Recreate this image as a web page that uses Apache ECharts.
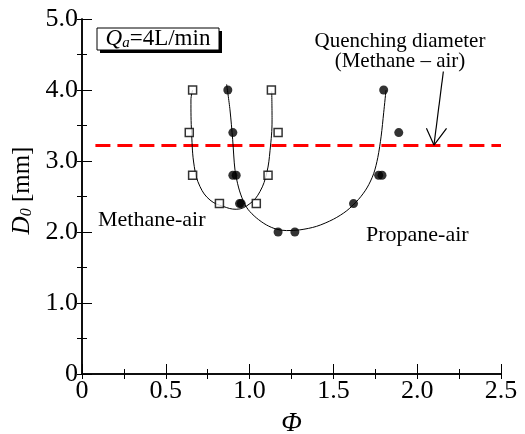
<!DOCTYPE html>
<html>
<head>
<meta charset="utf-8">
<script src="https://cdn.jsdelivr.net/npm/echarts@6/dist/echarts.min.js"></script>
<style>
  html, body { margin: 0; padding: 0; background: #fff; }
  #chart { width: 525px; height: 434px; }
</style>
</head>
<body>
<div id="chart"></div>
<script>
// measured points (phi, D0)
const methaneX = [0.66, 0.64, 0.66, 0.82, 1.04, 1.11, 1.17, 1.13];
const methaneY = [4.0, 3.4, 2.8, 2.4, 2.4, 2.8, 3.4, 4.0];
const propaneX = [0.87, 0.90, 0.90, 0.92, 0.94, 0.95, 1.17, 1.27, 1.62, 1.77, 1.79, 1.80, 1.89];
const propaneY = [4.0, 3.4, 2.8, 2.8, 2.4, 2.4, 2.0, 2.0, 2.4, 2.8, 2.8, 4.0, 3.4];

// fitted curves
const methaneFitX = [0.66, 0.650, 0.654, 0.670, 0.704, 0.764, 0.843, 0.92, 1.002, 1.062, 1.102, 1.122, 1.134, 1.132];
const methaneFitY = [4.0, 3.86, 3.39, 2.92, 2.64, 2.45, 2.36, 2.32, 2.40, 2.57, 2.83, 3.15, 3.58, 3.98];
const propaneFitX = [0.863, 0.883, 0.899, 0.913, 0.935, 0.96, 0.99, 1.04, 1.10, 1.16, 1.22, 1.30, 1.40, 1.50, 1.58, 1.65, 1.70, 1.74, 1.765, 1.785, 1.80, 1.814];
const propaneFitY = [4.08, 3.72, 3.30, 2.87, 2.62, 2.45, 2.32, 2.20, 2.10, 2.04, 2.02, 2.03, 2.08, 2.18, 2.30, 2.46, 2.62, 2.82, 3.05, 3.35, 3.68, 4.0];

// quenching diameter (methane-air)
const quenchY = 3.22;
const quenchX = [0.08, 2.5];
// arrow pointing at the quenching line
const arrowShaft = [[2.156, 4.26], [2.10, 3.225]];
const arrowHead = [[2.055, 3.46], [2.10, 3.225], [2.175, 3.46]];

const zip = (xs, ys) => xs.map((x, i) => [x, ys[i]]);
const serif = "'Liberation Serif', 'DejaVu Serif', serif";
const fmt = v => (v === 0 ? '0' : v.toFixed(1));

const chart = echarts.init(document.getElementById('chart'));

const frameAxis = {
  axisLine: { show: true, lineStyle: { color: '#000', width: 1.5 } },
  splitLine: { show: false }
};

const option = {
  animation: false,
  textStyle: { fontFamily: serif, color: '#000' },
  grid: { left: 82, right: 24, top: 19, bottom: 60, containLabel: false, outerBoundsMode: 'none' },
  xAxis: [
    {
      ...frameAxis,
      type: 'value', min: 0, max: 2.5, interval: 0.5, position: 'bottom',
      name: 'Φ', nameLocation: 'middle', nameGap: 36,
      nameTextStyle: { fontFamily: serif, fontStyle: 'italic', fontSize: 27, color: '#000' },
      axisTick: { show: true, inside: true, length: 10, lineStyle: { color: '#000' } },
      minorTick: { show: true, splitNumber: 2, length: 5, lineStyle: { color: '#000' } },
      axisLabel: { fontFamily: serif, fontSize: 26, color: '#000', margin: 4, formatter: fmt }
    },
    {
      ...frameAxis,
      type: 'value', min: 0, max: 2.5, interval: 0.5, position: 'top',
      axisTick: { show: true, inside: true, length: 5, lineStyle: { color: '#000' } },
      minorTick: { show: true, splitNumber: 2, length: 5, lineStyle: { color: '#000' } },
      axisLabel: { show: false }
    }
  ],
  yAxis: [
    {
      ...frameAxis,
      type: 'value', min: 0, max: 5, interval: 1, position: 'left',
      name: '{i|D}{s|0}{n| [mm]}', nameLocation: 'middle', nameGap: 44, nameRotate: 90,
      nameTextStyle: {
        padding: [0, 0, 0, 12],
        rich: {
          i: { fontFamily: serif, fontStyle: 'italic', fontSize: 25, color: '#000' },
          s: { fontFamily: serif, fontStyle: 'italic', fontSize: 16, color: '#000', verticalAlign: 'bottom', padding: [8, 0, 0, 0] },
          n: { fontFamily: serif, fontSize: 25, color: '#000' }
        }
      },
      axisTick: { show: true, inside: true, length: 10, lineStyle: { color: '#000' } },
      minorTick: { show: true, splitNumber: 2, length: 5, lineStyle: { color: '#000' } },
      axisLabel: { fontFamily: serif, fontSize: 26, color: '#000', margin: 4, formatter: fmt }
    },
    {
      ...frameAxis,
      type: 'value', min: 0, max: 5, interval: 1, position: 'right',
      axisTick: { show: true, inside: true, length: 5, lineStyle: { color: '#000' } },
      minorTick: { show: true, splitNumber: 2, length: 5, lineStyle: { color: '#000' } },
      axisLabel: { show: false }
    }
  ],
  series: [
    {
      name: 'quench', type: 'line', symbol: 'none', silent: true,
      data: quenchX.map(x => [x, quenchY]),
      lineStyle: { color: '#ff0000', width: 3, type: [15, 7] },
      z: 1
    },
    {
      name: 'methane fit', type: 'line', symbol: 'none', smooth: 0.4,
      data: zip(methaneFitX, methaneFitY),
      lineStyle: { color: '#000', width: 1 }, z: 2
    },
    {
      name: 'propane fit', type: 'line', symbol: 'none', smooth: 0.3,
      data: zip(propaneFitX, propaneFitY),
      lineStyle: { color: '#000', width: 1 }, z: 2
    },
    {
      name: 'Methane-air', type: 'scatter', symbol: 'rect', symbolSize: 8,
      data: zip(methaneX, methaneY),
      itemStyle: { color: '#fff', borderColor: '#000', borderWidth: 1.5 }, z: 3
    },
    {
      name: 'Propane-air', type: 'scatter', symbol: 'circle', symbolSize: 9,
      data: zip(propaneX, propaneY),
      itemStyle: { color: '#000' }, z: 3
    },
    {
      name: 'arrow shaft', type: 'line', symbol: 'none', silent: true,
      data: arrowShaft, lineStyle: { color: '#000', width: 1.2 }, z: 4
    },
    {
      name: 'arrow head', type: 'line', symbol: 'none', silent: true,
      data: arrowHead, lineStyle: { color: '#000', width: 1.2 }, z: 4
    }
  ],
  graphic: [
    // Qa box with drop shadow
    { type: 'rect', shape: { x: 100, y: 31, width: 122, height: 22 }, style: { fill: '#000' }, z: 10 },
    { type: 'rect', shape: { x: 97, y: 28, width: 122, height: 22 }, style: { fill: '#fff', stroke: '#000', lineWidth: 1 }, z: 11 },
    {
      type: 'text', x: 158, y: 39, z: 12,
      style: {
        text: '{i|Q}{s|a}{n|=4L/min}',
        align: 'center', verticalAlign: 'middle',
        rich: {
          i: { fontFamily: serif, fontStyle: 'italic', fontSize: 23, fill: '#000' },
          s: { fontFamily: serif, fontStyle: 'italic', fontSize: 15, fill: '#000', verticalAlign: 'bottom', padding: [9, 0, 0, 0] },
          n: { fontFamily: serif, fontSize: 23, fill: '#000' }
        }
      }
    },
    { type: 'text', left: 98, top: 209, style: { text: 'Methane-air', font: '22px ' + serif, fill: '#000' } },
    { type: 'text', left: 366, top: 224, style: { text: 'Propane-air', font: '22px ' + serif, fill: '#000' } },
    {
      type: 'text', x: 400, y: 31,
      style: { text: 'Quenching diameter\n(Methane – air)', font: '21px ' + serif, fill: '#000', align: 'center', lineHeight: 20 }
    }
  ]
};

chart.setOption(option);
window.addEventListener('resize', () => chart.resize());
</script>
</body>
</html>
